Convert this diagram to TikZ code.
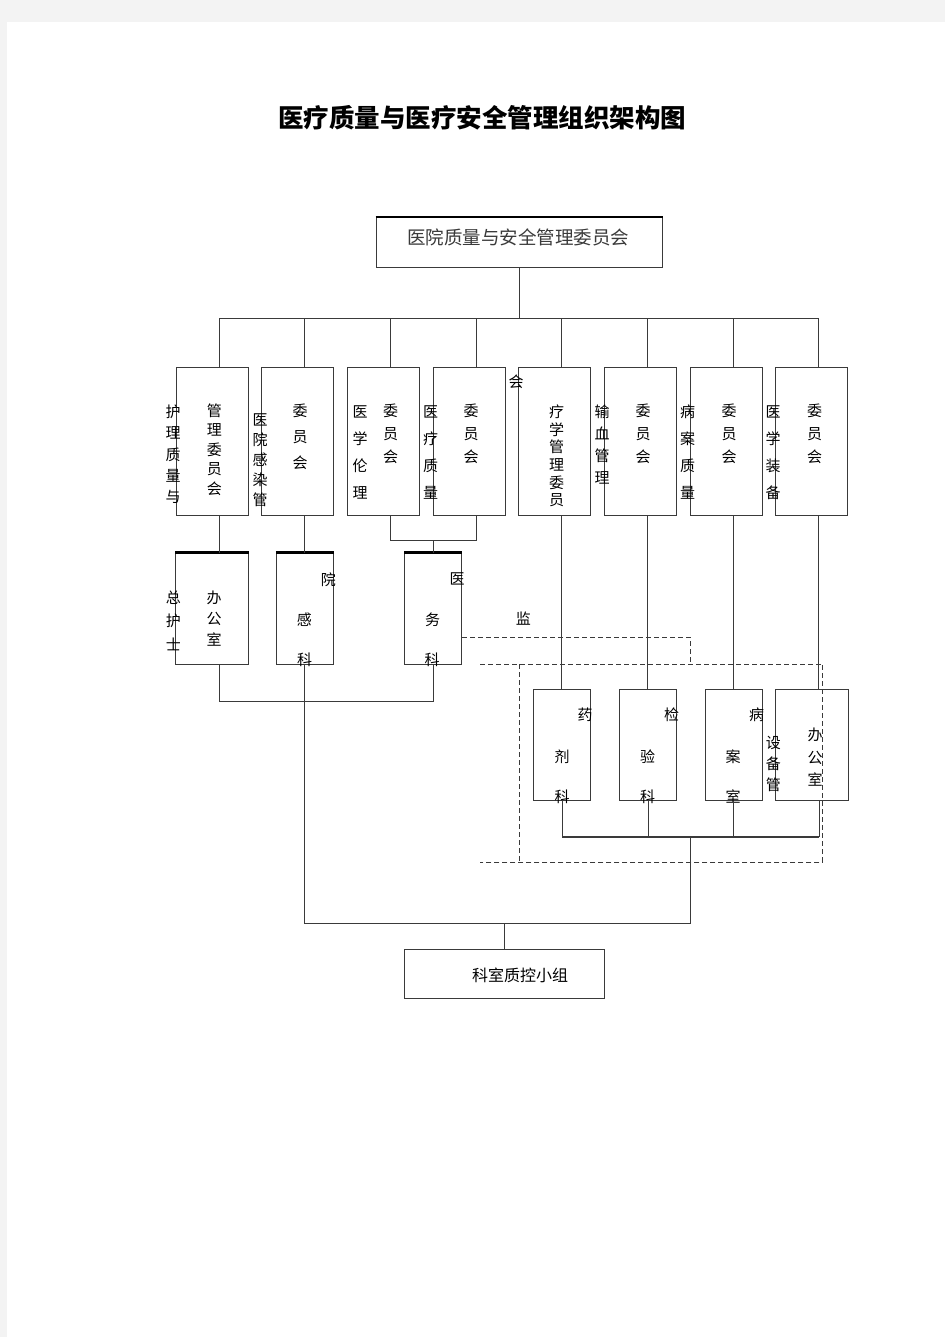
\documentclass[tikz,border=0pt]{standalone}
\usepackage{fontspec}
\newfontfamily\cjk{Noto Sans CJK SC}
\definecolor{linegray}{HTML}{3A3A3A}
\definecolor{pagegray}{HTML}{F3F3F3}
\begin{document}
\begin{tikzpicture}[x=1pt,y=-1pt,
    box/.style={draw=linegray,line width=1pt,minimum width=72pt,minimum height=148pt,inner sep=0pt},
    smallbox/.style={draw=linegray,line width=1pt,minimum width=57pt,minimum height=111pt,inner sep=0pt},
    link/.style={draw=linegray,line width=1pt},
    dashlink/.style={draw=linegray,line width=1pt,dash pattern=on 5pt off 3pt},
    vtxt/.style={font=\cjk\fontsize{15}{#1}\selectfont,align=center,inner sep=0pt},
    vtxt/.default=23,
    onechar/.style={font=\cjk\fontsize{15}{18}\selectfont,inner sep=0pt}]
        % page
        \fill[pagegray] (0,0) rectangle (945,1337);
        \fill[white] (7,22) rectangle (945,1337);
        \useasboundingbox (0,0) rectangle (945,1337);
        \node[font=\cjk\bfseries\fontsize{25.5}{30}\selectfont] (title) at (482,118) {医疗质量与医疗安全管理组织架构图};

        % top and bottom boxes
        \node[box,minimum width=286pt,minimum height=50pt] (top) at (519,242.7) {};
        \node[font=\cjk\fontsize{18.5}{22}\selectfont,text=linegray] (toptxt) at (518.3,237) {医院质量与安全管理委员会};
        \node[box,minimum width=200pt,minimum height=49pt] (bot) at (504.3,973.7) {};
        \node[font=\cjk\fontsize{16}{20}\selectfont] (bottxt) at (520,975.7) {科室质控小组};

        % first row of committees
        \foreach \i in {1,...,8}
            \node[box] (b\i) at ({212+85.7*(\i-1)},441) {};
        \node[vtxt=19.4] (t1in) at (214.3,449.5) {管\\理\\委\\员\\会};
        \node[vtxt=21.3] (t1out) at (173,454.5) {护\\理\\质\\量\\与};
        \node[vtxt=26] (t2in) at (300,437) {委\\员\\会};
        \node[vtxt=20] (t2out) at (260,460) {医\\院\\感\\染\\管};
        \node[vtxt] (t3in) at (390.7,433.3) {委\\员\\会};
        \node[vtxt=27] (t3out) at (360,452.5) {医\\学\\伦\\理};
        \node[vtxt] (t4in) at (471,433.3) {委\\员\\会};
        \node[vtxt=27] (t4out) at (430.7,452.5) {医\\疗\\质\\量};
        \node[onechar] (hui) at (516,381.6) {会};
        \node[vtxt=17.6] (t5in) at (556.7,456) {疗\\学\\管\\理\\委\\员};
        \node[vtxt] (t6in) at (643,433.3) {委\\员\\会};
        \node[vtxt=21.7] (t6out) at (602,444.5) {输\\血\\管\\理};
        \node[vtxt] (t7in) at (729,433.3) {委\\员\\会};
        \node[vtxt=27] (t7out) at (687.7,452.5) {病\\案\\质\\量};
        \node[vtxt] (t8in) at (814.7,433.3) {委\\员\\会};
        \node[vtxt=27] (t8out) at (773,452.5) {医\\学\\装\\备};

        % second row of offices
        \node[box,minimum height=111pt,minimum width=72.6pt] (ra) at (212,608.5) {};
        \node[smallbox] (rb) at (304.8,608.5) {};
        \node[smallbox] (rc) at (433.2,608.5) {};
        \foreach \r in {ra,rb,rc}
            \draw[line width=2.2pt] (\r.north west) -- (\r.north east);
        \draw[line width=2pt] (top.north west) -- (top.north east);
        \node[vtxt=21.3] (rain) at (214,618.7) {办\\公\\室};
        \node[vtxt=23.5] (raout) at (173.3,620.5) {总\\护\\士};
        \node[onechar] (rb1) at (328.3,579.3) {院};
        \node[onechar] (rb2) at (304.3,620) {感};
        \node[onechar] (rb3) at (304.5,660) {科};
        \node[onechar] (rc1) at (457,579.3) {医};
        \node[onechar] (rc2) at (432.7,620) {务};
        \node[onechar] (rc3) at (432,660) {科};
        \node[onechar] (jian) at (523.3,618.3) {监};

        % third row of departments
        \node[smallbox] (rd) at (562,744.5) {};
        \node[smallbox] (re) at (648,744.5) {};
        \node[smallbox] (rf) at (733.7,744.5) {};
        \node[box,minimum height=111pt,minimum width=72.6pt] (rg) at (812,744.5) {};
        \node[onechar] (rd1) at (585,715) {药};
        \node[onechar] (rd2) at (562,756.7) {剂};
        \node[onechar] (rd3) at (562,796.7) {科};
        \node[onechar] (re1) at (671.7,715) {检};
        \node[onechar] (re2) at (647.7,757) {验};
        \node[onechar] (re3) at (647.7,797) {科};
        \node[onechar] (rf1) at (756.7,715) {病};
        \node[onechar] (rf2) at (733,757) {案};
        \node[onechar] (rf3) at (733,797) {室};
        \node[vtxt=22.5] (rgin) at (815,757.5) {办\\公\\室};
        \node[vtxt=21] (rgout) at (773.3,764) {设\\备\\管};

        % draw the connectors
        \coordinate (busA) at (519,318);
        \coordinate (busC) at (690,837);
        \coordinate (busD) at (690,923);
        \draw[link] (top.south) -- (busA);
        \draw[link] ([xshift=7]b1.north |- busA) -- ([xshift=7]b8.north |- busA);
        \foreach \i in {1,...,8}
            \draw[link] ([xshift=7]b\i.north) -- ([xshift=7]b\i.north |- busA);
        \draw[link] ([xshift=7]b1.south) -- ([xshift=7]b1.south |- ra.north);
        \draw[link] ([xshift=7]b2.south) -- ([xshift=7]b2.south |- rb.north);
        \draw[link] ([xshift=7]b3.south) -- ++(0,25) -| ([xshift=7]b4.south);
        \draw[link] (rc.north) -- ++(0,-13);
        \foreach \i/\r in {5/rd,6/re,7/rf,8/rg}
            \draw[link] ([xshift=7]b\i.south) -- ([xshift=7]b\i.south |- \r.north);
        \draw[link] ([xshift=7]ra.south) -- ++(0,37) -| (rc.south);
        \foreach \r in {rd,re,rf}
            \draw[link] (\r.south) -- (\r.south |- busC);
        \draw[link] ([xshift=7]rg.south) -- ([xshift=7]rg.south |- busC);
        \draw[link,line width=1.6pt] (rd.south |- busC) -- ([xshift=7]rg.south |- busC);
        \draw[link] (busC) -- (busD) -| (rb.south);
        \draw[link] (bot.north) -- (bot.north |- busD);

        % dashed supervision lines
        \draw[dashlink] (rc.east |- jian.south) ++(0,12) -| (690,662);
        \draw[dashlink] (480,664) -- (822.7,664) -- (822.7,862) -- (480,862);
        \draw[dashlink] (519,664) -- (519,862);
\end{tikzpicture}
\end{document}
